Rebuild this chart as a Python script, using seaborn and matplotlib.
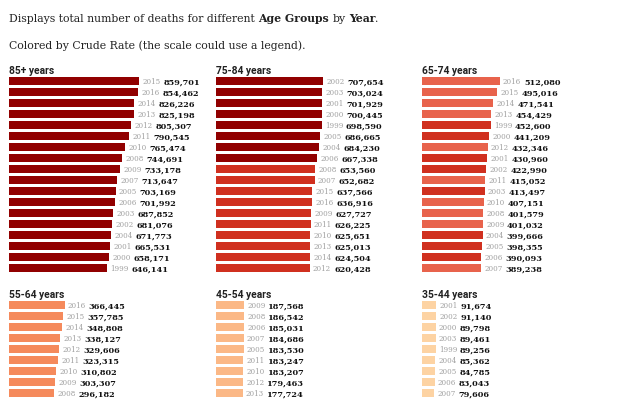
import matplotlib
matplotlib.use("Agg")
import matplotlib.pyplot as plt
from matplotlib.offsetbox import TextArea, HPacker, AnnotationBbox
import pandas as pd
import seaborn as sns

# deaths per age group, in the order shown (sorted by deaths), with an estimated crude rate per year
years_85 = [2015, 2016, 2014, 2013, 2012, 2011, 2010, 2008, 2009, 2007, 2005, 2006, 2003, 2002, 2004, 2001, 2000, 1999]
deaths_85 = [859701, 854462, 826226, 825198, 805307, 790545, 765474, 744691, 733178, 713647,
             703169, 701992, 687852, 681076, 671773, 665531, 658171, 646141]
rate_85 = [13400, 13500, 13600, 13900, 13900, 14000, 14000, 14300, 14200, 14600,
           15100, 14800, 15400, 15600, 15300, 15700, 15800, 15900]

years_75 = [2002, 2003, 2001, 2000, 1999, 2005, 2004, 2006, 2008, 2007, 2015, 2016, 2009, 2011, 2010, 2013, 2014, 2012]
deaths_75 = [707654, 703024, 701929, 700445, 698590, 686665, 684230, 667338, 653560, 652682,
             637566, 636916, 627727, 626225, 625651, 625013, 624504, 620428]
rate_75 = [5580, 5470, 5600, 5690, 5700, 5290, 5280, 5130, 4920, 4960,
           4220, 4100, 4700, 4560, 4640, 4380, 4250, 4400]

years_65 = [2016, 2015, 2014, 2013, 1999, 2000, 2012, 2001, 2002, 2011, 2003, 2010, 2008, 2009, 2004, 2005, 2006, 2007]
deaths_65 = [512080, 495016, 471541, 454429, 452600, 441209, 432346, 430960, 422990, 415052,
             413497, 407151, 401579, 401032, 399666, 398355, 390093, 389238]
rate_65 = [1850, 1860, 1870, 1890, 2460, 2400, 1910, 2340, 2290, 1930,
           2240, 1960, 2030, 1980, 2160, 2140, 2100, 2030]

years_55 = [2016, 2015, 2014, 2013, 2012, 2011, 2010, 2009, 2008, 2007]
deaths_55 = [366445, 357785, 348808, 338127, 329606, 323315, 310802, 303307, 296182, 289500]
rate_55 = [880, 875, 870, 865, 860, 860, 855, 860, 870, 875]

years_45 = [2009, 2008, 2006, 2007, 2005, 2011, 2010, 2012, 2013, 2014]
deaths_45 = [187568, 186542, 185031, 184686, 183530, 183247, 183207, 179463, 177724, 175800]
rate_45 = [420, 425, 430, 425, 430, 410, 415, 405, 405, 400]

years_35 = [2001, 2002, 2000, 2003, 1999, 2004, 2005, 2006, 2007, 2008]
deaths_35 = [91674, 91140, 89798, 89461, 89256, 85362, 84785, 83043, 79606, 77000]
rate_35 = [205, 205, 200, 202, 198, 194, 194, 193, 186, 180]

groups = ["85+ years", "75-84 years", "65-74 years", "55-64 years", "45-54 years", "35-44 years"]
all_years = [years_85, years_75, years_65, years_55, years_45, years_35]
all_deaths = [deaths_85, deaths_75, deaths_65, deaths_55, deaths_45, deaths_35]
all_rates = [rate_85, rate_75, rate_65, rate_55, rate_45, rate_35]

# binned colour scale for crude rate
rate_bins = [0, 300, 700, 1500, 2050, 5000, 100000]
rate_colors = ["#fdd3a3", "#fbb886", "#f58a5c", "#e8634c", "#d0301f", "#910000"]
levels = ["l0", "l1", "l2", "l3", "l4", "l5"]
pal = dict(zip(levels, rate_colors))

serif = "DejaVu Serif"
title_font = ["Roboto", "DejaVu Sans"]

fig = plt.figure(figsize=(6.4, 4), dpi=100)
fig.patch.set_facecolor("white")

W, H = 640, 400
col_left = [9, 215.7, 422]
row_top = [75.5, 299.5]
pitch = 11

for k, name in enumerate(groups):
    r, c = divmod(k, 3)
    yrs = all_years[k]
    vals = all_deaths[k]
    n = len(yrs)
    d = pd.DataFrame({"year": [str(y) for y in yrs], "deaths": vals})
    d["level"] = pd.cut(all_rates[k], rate_bins, labels=levels).astype(str)

    top = row_top[r]
    ax = fig.add_axes([col_left[c] / W, 1 - (top + n * pitch) / H, 200 / W, n * pitch / H])
    sns.barplot(data=d, x="deaths", y="year", hue="level", palette=pal, order=d["year"],
                hue_order=levels, dodge=False, width=0.73, saturation=1, linewidth=0,
                legend=False, ax=ax)
    ax.set_xlim(0, 1.32e6)
    ax.set_ylim(n - 0.5, -0.5)
    ax.axis("off")

    for i, (y, v) in enumerate(zip(yrs, vals)):
        if top + (i + 1) * pitch > H:
            continue  # row falls below the bottom edge, only the bar top shows
        ax.annotate(str(y), (v, i), xytext=(2.4, -0.3), textcoords="offset points",
                    va="center_baseline", ha="left", fontsize=5.1, color="#a0a0a0", family=serif)
        ax.annotate(f"{v:,}", (v, i), xytext=(17.5, -0.3), textcoords="offset points",
                    va="center_baseline", ha="left", fontsize=5.9, fontweight="bold",
                    color="#111111", family=serif)

    fig.text(col_left[c] / W, 1 - (top - 5) / H, name, va="center", ha="left",
             fontsize=7.4, fontweight="bold", color="#222222", family=title_font)

# subtitle lines with bold words
fs = 7.8
reg = dict(family=serif, fontsize=fs, color="#222222")
bold = dict(family=serif, fontsize=fs, color="#222222", fontweight="bold")
sp = 0.318 * fs

words1 = HPacker(children=[TextArea("Displays total number of deaths for different", textprops=reg),
                           TextArea("Age Groups", textprops=bold),
                           TextArea("by", textprops=reg),
                           TextArea("Year", textprops=bold)], sep=sp, pad=0, align="baseline")
line1 = HPacker(children=[words1, TextArea(".", textprops=reg)], sep=0, pad=0, align="baseline")
fig.add_artist(AnnotationBbox(line1, (9 / W, 1 - 19 / H), xycoords="figure fraction",
                              box_alignment=(0, 0.5), frameon=False, pad=0))
fig.text(9 / W, 1 - 46 / H, "Colored by Crude Rate (the scale could use a legend).",
         va="center", ha="left", **reg)

fig.savefig("out.png", dpi=100, facecolor="white")
